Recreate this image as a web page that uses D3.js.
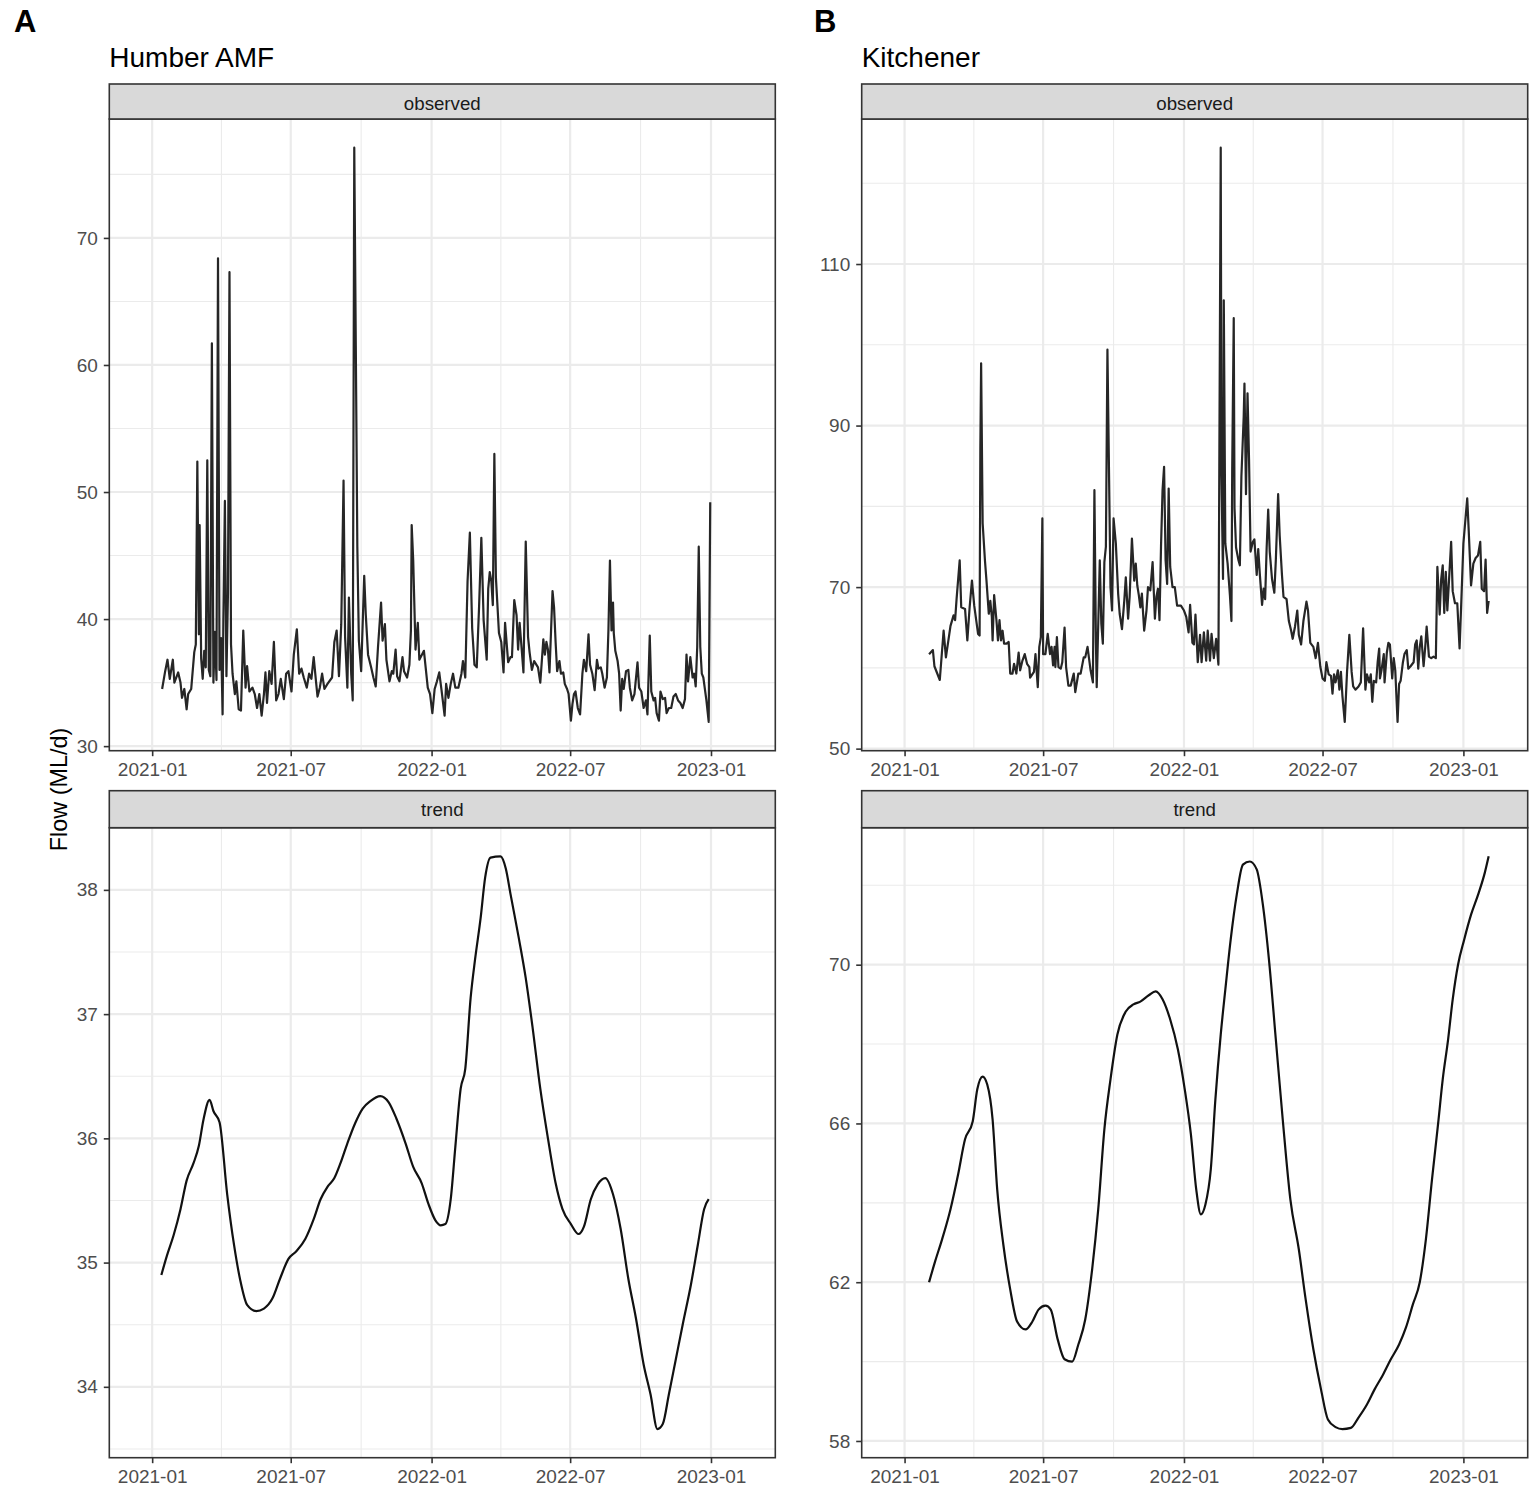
<!DOCTYPE html>
<html>
<head>
<meta charset="utf-8">
<script src="https://cdn.jsdelivr.net/npm/d3@7"></script>
<style>
    body { margin: 0; background: #ffffff; }
    svg { display: block; }
    text { font-family: "Liberation Sans", Arial, sans-serif; }
</style>
</head>
<body>
<div id="chart"></div>
<script>
// values
var humberObserved = [
    ["2021-01-14",34.5],["2021-01-18",35.9],["2021-01-21",36.8],["2021-01-24",35.3],["2021-01-28",36.8],["2021-01-30",35.0],
    ["2021-02-04",35.8],["2021-02-07",35.0],["2021-02-09",33.8],["2021-02-12",34.5],["2021-02-15",32.9],["2021-02-17",34.1],
    ["2021-02-21",34.5],["2021-02-25",37.4],["2021-02-27",38.0],["2021-03-01",52.4],["2021-03-03",38.8],["2021-03-04",47.4],
    ["2021-03-06",36.9],["2021-03-08",35.3],["2021-03-10",37.5],["2021-03-12",36.2],["2021-03-14",52.5],["2021-03-16",36.0],
    ["2021-03-18",35.5],["2021-03-20",61.7],["2021-03-22",35.0],["2021-03-24",39.0],["2021-03-26",35.2],["2021-03-28",68.4],
    ["2021-03-30",36.0],["2021-04-01",38.5],["2021-04-03",32.5],["2021-04-04",40.0],["2021-04-06",49.3],["2021-04-08",35.5],
    ["2021-04-10",42.0],["2021-04-12",67.3],["2021-04-14",38.0],["2021-04-16",35.7],["2021-04-19",34.1],["2021-04-21",35.1],
    ["2021-04-24",32.9],["2021-04-27",32.8],["2021-04-30",39.1],["2021-05-03",34.6],["2021-05-05",36.3],["2021-05-08",34.3],
    ["2021-05-12",34.6],["2021-05-15",34.1],["2021-05-18",33.0],["2021-05-21",34.1],["2021-05-24",32.4],["2021-05-27",34.1],
    ["2021-05-29",35.8],["2021-05-31",33.4],["2021-06-03",35.9],["2021-06-06",34.9],["2021-06-09",38.2],["2021-06-12",33.6],
    ["2021-06-15",34.1],["2021-06-18",35.3],["2021-06-22",33.7],["2021-06-25",35.7],["2021-06-28",35.9],["2021-07-02",34.3],
    ["2021-07-05",37.2],["2021-07-09",39.2],["2021-07-12",35.7],["2021-07-15",36.1],["2021-07-18",35.4],["2021-07-22",34.6],
    ["2021-07-25",35.7],["2021-07-28",35.3],["2021-07-31",37.0],["2021-08-03",35.1],["2021-08-05",33.9],["2021-08-08",34.6],
    ["2021-08-11",35.7],["2021-08-14",34.5],["2021-08-18",34.9],["2021-08-24",35.4],["2021-08-27",38.2],["2021-08-30",39.1],
    ["2021-09-02",35.5],["2021-09-05",39.6],["2021-09-08",50.9],["2021-09-10",38.6],["2021-09-13",34.6],["2021-09-15",41.7],
    ["2021-09-18",35.7],["2021-09-20",33.6],["2021-09-22",77.1],["2021-09-24",61.5],["2021-09-26",45.7],["2021-09-28",38.3],
    ["2021-10-01",35.9],["2021-10-05",43.4],["2021-10-07",40.4],["2021-10-10",37.2],["2021-10-14",36.2],["2021-10-17",35.4],
    ["2021-10-20",34.7],["2021-10-23",37.8],["2021-10-27",41.3],["2021-10-29",38.3],["2021-11-01",39.6],["2021-11-03",36.8],
    ["2021-11-07",35.1],["2021-11-10",35.9],["2021-11-12",35.7],["2021-11-15",37.6],["2021-11-17",35.5],["2021-11-20",35.1],
    ["2021-11-24",37.0],["2021-11-26",35.9],["2021-11-30",35.4],["2021-12-03",36.4],["2021-12-05",39.1],["2021-12-06",47.4],
    ["2021-12-08",44.6],["2021-12-11",37.6],["2021-12-14",39.7],["2021-12-16",36.8],["2021-12-22",37.5],["2021-12-27",34.6],
    ["2021-12-30",34.1],["2022-01-02",32.6],["2022-01-05",34.5],["2022-01-08",35.1],["2022-01-11",35.8],["2022-01-14",34.4],
    ["2022-01-18",32.4],["2022-01-20",34.9],["2022-01-23",33.8],["2022-01-26",34.9],["2022-01-29",35.7],["2022-02-01",34.6],
    ["2022-02-05",34.6],["2022-02-09",35.7],["2022-02-11",36.7],["2022-02-14",35.4],["2022-02-17",43.0],["2022-02-20",46.8],
    ["2022-02-23",39.3],["2022-02-26",36.4],["2022-03-01",36.2],["2022-03-04",40.9],["2022-03-07",46.4],["2022-03-10",39.9],
    ["2022-03-14",36.8],["2022-03-16",42.4],["2022-03-18",43.7],["2022-03-20",43.0],["2022-03-22",41.1],["2022-03-24",53.0],
    ["2022-03-26",43.3],["2022-03-30",38.9],["2022-04-02",38.2],["2022-04-05",35.8],["2022-04-07",39.7],["2022-04-11",36.6],
    ["2022-04-14",37.0],["2022-04-16",37.0],["2022-04-19",41.5],["2022-04-22",40.3],["2022-04-24",37.6],["2022-04-26",39.7],
    ["2022-04-29",37.4],["2022-05-01",35.8],["2022-05-04",46.1],["2022-05-07",38.6],["2022-05-09",37.4],["2022-05-12",36.0],
    ["2022-05-15",36.7],["2022-05-18",36.4],["2022-05-20",36.2],["2022-05-23",35.0],["2022-05-27",38.4],["2022-05-29",37.2],
    ["2022-05-31",38.2],["2022-06-02",37.6],["2022-06-04",35.8],["2022-06-08",42.2],["2022-06-10",40.9],["2022-06-12",38.2],
    ["2022-06-14",35.9],["2022-06-17",36.7],["2022-06-19",35.7],["2022-06-22",35.8],["2022-06-24",34.9],["2022-06-27",34.5],
    ["2022-06-29",34.1],["2022-07-02",32.0],["2022-07-04",33.3],["2022-07-06",34.1],["2022-07-08",34.3],["2022-07-11",33.0],
    ["2022-07-14",32.5],["2022-07-17",35.7],["2022-07-19",36.8],["2022-07-22",35.9],["2022-07-25",38.8],["2022-07-27",36.4],
    ["2022-07-30",35.7],["2022-08-02",34.4],["2022-08-05",36.8],["2022-08-07",36.1],["2022-08-10",36.2],["2022-08-12",35.7],
    ["2022-08-15",34.6],["2022-08-18",35.4],["2022-08-20",39.1],["2022-08-22",44.6],["2022-08-24",39.1],["2022-08-26",41.3],
    ["2022-08-27",38.9],["2022-08-29",37.5],["2022-09-01",36.7],["2022-09-03",35.7],["2022-09-05",32.8],["2022-09-07",35.3],
    ["2022-09-09",34.5],["2022-09-12",35.9],["2022-09-15",36.0],["2022-09-17",34.6],["2022-09-20",33.6],["2022-09-23",34.1],
    ["2022-09-27",36.6],["2022-09-29",34.6],["2022-10-02",34.3],["2022-10-05",33.0],["2022-10-08",33.6],["2022-10-10",32.5],
    ["2022-10-13",38.7],["2022-10-15",34.3],["2022-10-18",33.6],["2022-10-20",33.8],["2022-10-22",32.6],["2022-10-25",32.0],
    ["2022-10-27",34.3],["2022-10-30",33.7],["2022-11-02",33.8],["2022-11-04",32.6],["2022-11-07",33.0],["2022-11-10",33.0],
    ["2022-11-13",33.9],["2022-11-16",34.1],["2022-11-19",33.6],["2022-11-22",33.4],["2022-11-25",33.0],["2022-11-28",33.7],
    ["2022-11-30",37.2],["2022-12-02",35.1],["2022-12-05",37.0],["2022-12-08",35.4],["2022-12-10",35.7],["2022-12-12",34.7],
    ["2022-12-14",37.8],["2022-12-16",45.7],["2022-12-18",37.8],["2022-12-20",35.7],["2022-12-22",35.4],["2022-12-26",33.6],
    ["2022-12-29",31.9],["2022-12-31",49.2]
];

var humberTrend = [
    ["2021-01-13",34.90],["2021-01-20",35.05],["2021-01-29",35.22],["2021-02-07",35.43],["2021-02-15",35.66],["2021-02-24",35.80],
    ["2021-03-03",35.94],["2021-03-09",36.15],["2021-03-17",36.31],["2021-03-22",36.22],["2021-03-30",36.13],["2021-04-09",35.55],
    ["2021-04-18",35.14],["2021-04-26",34.86],["2021-05-05",34.66],["2021-05-17",34.61],["2021-05-27",34.63],["2021-06-07",34.71],
    ["2021-06-17",34.87],["2021-06-28",35.03],["2021-07-08",35.09],["2021-07-20",35.19],["2021-07-31",35.35],["2021-08-09",35.51],
    ["2021-08-18",35.61],["2021-08-27",35.68],["2021-09-04",35.80],["2021-09-13",35.96],["2021-09-23",36.12],["2021-10-03",36.24],
    ["2021-10-13",36.30],["2021-10-26",36.34],["2021-11-06",36.29],["2021-11-16",36.16],["2021-11-28",35.96],["2021-12-08",35.77],
    ["2021-12-19",35.64],["2021-12-28",35.47],["2022-01-06",35.34],["2022-01-13",35.30],["2022-01-19",35.31],["2022-01-26",35.51],
    ["2022-02-01",35.93],["2022-02-08",36.40],["2022-02-14",36.56],["2022-02-21",37.13],["2022-02-27",37.45],["2022-03-06",37.77],
    ["2022-03-12",38.10],["2022-03-19",38.26],["2022-04-01",38.27],["2022-04-08",38.17],["2022-04-14",37.97],["2022-04-25",37.61],
    ["2022-05-04",37.29],["2022-05-13",36.89],["2022-05-23",36.40],["2022-06-02",36.00],["2022-06-12",35.64],["2022-06-21",35.43],
    ["2022-07-02",35.31],["2022-07-12",35.23],["2022-07-19",35.29],["2022-07-28",35.51],["2022-08-06",35.63],["2022-08-16",35.68],
    ["2022-08-26",35.55],["2022-09-05",35.27],["2022-09-15",34.87],["2022-09-25",34.55],["2022-10-05",34.18],["2022-10-14",33.94],
    ["2022-10-23",33.66],["2022-10-30",33.70],["2022-11-07",33.94],["2022-11-16",34.22],["2022-11-25",34.50],["2022-12-06",34.83],
    ["2022-12-15",35.15],["2022-12-23",35.43],["2022-12-29",35.51]
];

var kitchenerObserved = [
    ["2021-02-02",61.7],["2021-02-07",62.2],["2021-02-09",60.2],["2021-02-16",58.5],["2021-02-21",64.6],["2021-02-24",61.3],
    ["2021-03-02",65.2],["2021-03-06",66.5],["2021-03-08",65.9],["2021-03-10",68.6],["2021-03-14",73.3],["2021-03-16",67.5],
    ["2021-03-21",67.3],["2021-03-24",63.4],["2021-03-27",67.5],["2021-03-30",70.8],["2021-04-02",67.7],["2021-04-07",64.2],
    ["2021-04-09",64.0],["2021-04-10",87.4],["2021-04-11",97.7],["2021-04-13",77.9],["2021-04-16",73.3],["2021-04-18",70.8],
    ["2021-04-21",66.7],["2021-04-23",68.3],["2021-04-25",66.3],["2021-04-26",63.4],["2021-04-28",69.0],["2021-05-01",65.9],
    ["2021-05-03",63.4],["2021-05-05",65.9],["2021-05-07",63.4],["2021-05-09",64.6],["2021-05-11",63.0],["2021-05-14",63.0],
    ["2021-05-17",63.2],["2021-05-19",59.3],["2021-05-22",59.3],["2021-05-24",60.5],["2021-05-27",59.3],["2021-05-30",61.9],
    ["2021-06-01",59.7],["2021-06-04",60.9],["2021-06-07",61.7],["2021-06-10",60.5],["2021-06-13",60.1],["2021-06-14",58.8],
    ["2021-06-19",59.5],["2021-06-21",61.7],["2021-06-24",57.6],["2021-06-26",62.6],["2021-06-28",63.8],["2021-06-30",78.5],
    ["2021-07-01",61.7],["2021-07-04",61.7],["2021-07-07",64.2],["2021-07-10",61.7],["2021-07-12",62.6],["2021-07-14",60.3],
    ["2021-07-16",62.6],["2021-07-17",60.1],["2021-07-19",63.8],["2021-07-21",60.1],["2021-07-24",59.9],["2021-07-26",60.7],
    ["2021-07-29",65.0],["2021-07-31",60.1],["2021-08-03",57.8],["2021-08-06",57.8],["2021-08-10",59.3],["2021-08-12",57.0],
    ["2021-08-16",59.3],["2021-08-19",59.3],["2021-08-23",61.3],["2021-08-25",61.3],["2021-08-28",62.6],["2021-09-01",59.7],
    ["2021-09-04",58.2],["2021-09-06",82.0],["2021-09-08",63.0],["2021-09-09",57.6],["2021-09-13",73.3],["2021-09-15",65.5],
    ["2021-09-17",63.0],["2021-09-19",73.1],["2021-09-21",75.0],["2021-09-23",99.4],["2021-09-25",84.7],["2021-09-27",70.0],
    ["2021-09-29",67.1],["2021-10-01",78.5],["2021-10-04",75.4],["2021-10-07",69.2],["2021-10-09",66.7],["2021-10-12",64.8],
    ["2021-10-15",68.3],["2021-10-17",71.2],["2021-10-20",66.1],["2021-10-22",68.8],["2021-10-25",76.0],["2021-10-28",70.8],
    ["2021-10-30",72.9],["2021-11-01",70.2],["2021-11-03",69.0],["2021-11-05",67.5],["2021-11-07",69.2],["2021-11-10",64.6],
    ["2021-11-13",67.1],["2021-11-15",70.0],["2021-11-18",69.6],["2021-11-21",73.1],["2021-11-24",66.1],["2021-11-26",68.8],
    ["2021-11-28",69.8],["2021-11-30",65.9],["2021-12-02",75.0],["2021-12-04",82.0],["2021-12-06",84.9],["2021-12-08",73.3],
    ["2021-12-10",70.4],["2021-12-12",82.2],["2021-12-14",72.5],["2021-12-17",70.0],["2021-12-20",70.0],["2021-12-23",67.7],
    ["2021-12-28",67.7],["2022-01-01",67.1],["2022-01-04",66.3],["2022-01-07",64.4],["2022-01-09",67.8],["2022-01-12",63.1],
    ["2022-01-14",62.9],["2022-01-16",66.6],["2022-01-19",60.7],["2022-01-22",64.1],["2022-01-24",60.7],["2022-01-27",64.4],
    ["2022-01-30",60.9],["2022-02-01",64.6],["2022-02-04",60.9],["2022-02-06",64.2],["2022-02-09",61.2],["2022-02-12",63.6],
    ["2022-02-15",60.4],["2022-02-16",81.8],["2022-02-18",124.4],["2022-02-19",83.7],["2022-02-21",71.0],["2022-02-22",105.5],
    ["2022-02-24",75.4],["2022-02-27",72.9],["2022-03-02",69.0],["2022-03-04",65.8],["2022-03-05",84.7],["2022-03-07",103.3],
    ["2022-03-08",79.8],["2022-03-10",74.9],["2022-03-13",73.4],["2022-03-15",72.7],["2022-03-17",83.7],["2022-03-20",91.1],
    ["2022-03-21",95.2],["2022-03-23",81.5],["2022-03-25",94.0],["2022-03-27",85.7],["2022-03-29",74.4],["2022-04-01",75.6],
    ["2022-04-03",75.9],["2022-04-06",71.5],["2022-04-08",74.7],["2022-04-10",71.7],["2022-04-13",67.8],["2022-04-15",69.8],
    ["2022-04-17",68.5],["2022-04-19",74.9],["2022-04-21",79.6],["2022-04-23",74.4],["2022-04-26",71.0],["2022-04-29",69.3],
    ["2022-05-01",73.4],["2022-05-04",81.5],["2022-05-06",76.4],["2022-05-09",71.5],["2022-05-11",68.8],["2022-05-15",68.5],
    ["2022-05-18",65.8],["2022-05-21",64.6],["2022-05-23",63.6],["2022-05-26",65.1],["2022-05-29",67.1],["2022-05-31",64.1],
    ["2022-06-03",62.9],["2022-06-06",65.8],["2022-06-10",68.2],["2022-06-12",67.1],["2022-06-15",63.1],["2022-06-19",62.6],
    ["2022-06-22",61.2],["2022-06-25",63.1],["2022-06-28",60.2],["2022-07-01",58.7],["2022-07-04",58.4],["2022-07-06",60.7],
    ["2022-07-09",59.2],["2022-07-12",59.0],["2022-07-14",56.8],["2022-07-16",59.2],["2022-07-18",58.2],["2022-07-21",59.7],
    ["2022-07-23",57.3],["2022-07-25",59.5],["2022-07-27",56.5],["2022-07-30",53.3],["2022-08-02",59.5],["2022-08-05",64.1],
    ["2022-08-08",59.5],["2022-08-10",57.7],["2022-08-13",57.3],["2022-08-17",57.7],["2022-08-20",58.2],["2022-08-23",64.9],
    ["2022-08-26",57.3],["2022-08-28",59.2],["2022-08-31",58.2],["2022-09-02",59.2],["2022-09-04",55.8],["2022-09-06",58.4],
    ["2022-09-09",58.2],["2022-09-11",60.7],["2022-09-13",62.4],["2022-09-14",58.7],["2022-09-16",59.7],["2022-09-19",61.7],
    ["2022-09-20",58.2],["2022-09-23",61.9],["2022-09-25",63.1],["2022-09-27",62.9],["2022-09-30",58.7],["2022-10-02",61.2],
    ["2022-10-04",59.7],["2022-10-07",53.3],["2022-10-09",58.0],["2022-10-11",58.4],["2022-10-14",60.7],["2022-10-16",61.7],
    ["2022-10-19",62.2],["2022-10-21",59.9],["2022-10-24",60.2],["2022-10-28",60.7],["2022-10-30",62.9],["2022-11-01",63.4],
    ["2022-11-03",59.9],["2022-11-05",62.6],["2022-11-07",63.9],["2022-11-10",60.2],["2022-11-12",62.4],["2022-11-14",65.1],
    ["2022-11-17",61.4],["2022-11-20",61.2],["2022-11-23",61.4],["2022-11-26",61.2],["2022-11-28",72.5],["2022-12-01",66.6],
    ["2022-12-03",71.0],["2022-12-05",72.7],["2022-12-07",66.8],["2022-12-09",71.9],["2022-12-11",67.1],["2022-12-14",72.2],
    ["2022-12-16",75.6],["2022-12-18",69.5],["2022-12-21",68.0],["2022-12-24",68.0],["2022-12-27",62.4],["2022-12-29",67.5],
    ["2023-01-01",75.4],["2023-01-06",81.0],["2023-01-08",76.9],["2023-01-11",70.2],["2023-01-14",72.9],["2023-01-17",73.6],
    ["2023-01-20",73.9],["2023-01-23",75.6],["2023-01-25",69.8],["2023-01-28",69.5],["2023-01-30",73.4],["2023-02-01",66.8],
    ["2023-02-03",68.3]
];

var kitchenerTrend = [
    ["2021-02-02",62.00],["2021-02-10",62.53],["2021-02-19",63.08],["2021-03-02",63.84],["2021-03-12",64.72],["2021-03-21",65.60],
    ["2021-03-31",66.05],["2021-04-06",66.86],["2021-04-13",67.18],["2021-04-19",66.98],["2021-04-26",66.10],["2021-05-02",64.34],
    ["2021-05-10",62.95],["2021-05-19",61.82],["2021-05-28",61.01],["2021-06-08",60.81],["2021-06-17",61.01],["2021-06-25",61.31],
    ["2021-07-04",61.41],["2021-07-11",61.31],["2021-07-20",60.56],["2021-07-29",60.06],["2021-08-08",60.00],["2021-08-16",60.43],
    ["2021-08-25",61.06],["2021-09-03",62.32],["2021-09-11",63.84],["2021-09-19",65.85],["2021-09-27",67.11],["2021-10-06",68.24],
    ["2021-10-17",68.82],["2021-10-27",69.00],["2021-11-05",69.07],["2021-11-16",69.23],["2021-11-25",69.33],["2021-12-04",69.13],
    ["2021-12-14",68.62],["2021-12-24",67.87],["2022-01-02",66.86],["2022-01-10",65.73],["2022-01-17",64.34],["2022-01-23",63.71],
    ["2022-01-29",63.96],["2022-02-05",64.84],["2022-02-11",66.60],["2022-02-18",68.24],["2022-02-24",69.37],["2022-03-03",70.63],
    ["2022-03-11",71.77],["2022-03-19",72.52],["2022-03-28",72.60],["2022-04-06",72.40],["2022-04-14",71.52],["2022-04-22",70.13],
    ["2022-05-01",68.11],["2022-05-10",66.10],["2022-05-20",64.08],["2022-05-31",62.83],["2022-06-09",61.56],["2022-06-19",60.31],
    ["2022-06-29",59.30],["2022-07-08",58.54],["2022-07-18",58.35],["2022-07-27",58.30],["2022-08-07",58.33],["2022-08-17",58.59],
    ["2022-08-28",58.92],["2022-09-07",59.30],["2022-09-18",59.67],["2022-09-28",60.05],["2022-10-09",60.43],["2022-10-18",60.86],
    ["2022-10-27",61.44],["2022-11-05",62.00],["2022-11-13",63.08],["2022-11-21",64.59],["2022-11-29",66.00],["2022-12-05",67.11],
    ["2022-12-12",68.11],["2022-12-18",69.12],["2022-12-25",70.00],["2023-01-02",70.63],["2023-01-11",71.26],["2023-01-21",71.81],
    ["2023-01-29",72.32],["2023-02-03",72.73]
];

var sites = ["Humber AMF", "Kitchener"];
var tags = ["A", "B"];
var facets = ["observed", "trend"];
var xLimits = ["2020-11-06", "2023-03-26"];
var xTicks = ["2021-01-01", "2021-07-01", "2022-01-01", "2022-07-01", "2023-01-01"];
var humberObsTicks = [30, 40, 50, 60, 70];
var humberTrendTicks = [34, 35, 36, 37, 38];
var kitchenerObsTicks = [50, 70, 90, 110];
var kitchenerTrendTicks = [58, 62, 66, 70];
var yTitle = "Flow (ML/d)";

var W = 1536, H = 1493;
var colLeft = [109.3, 861.7];
var panelW = 666;
var rowsPos = [
    {stripTop: 84, top: 119, bottom: 750.7},
    {stripTop: 790.7, top: 827.7, bottom: 1457.7}
];
var parseDate = d3.utcParse("%Y-%m-%d");
var fmtDate = d3.utcFormat("%Y-%m");

var svg = d3.select("#chart").append("svg")
    .attr("width", W)
    .attr("height", H)
    .attr("viewBox", "0 0 " + W + " " + H);

svg.append("rect").attr("width", W).attr("height", H).attr("fill", "#ffffff");

function minorValues(major, domain) {
    var step = major[1] - major[0];
    var out = [];
    for (var i = -1; i < major.length; ++i) {
        var v = major[0] + step * (i + 0.5);
        if (v >= domain[0] && v <= domain[1]) out.push(v);
    }
    return out;
}

function drawPanel(col, row, data, yTicks) {
    var pos = rowsPos[row];
    var left = colLeft[col], right = left + panelW;

    var x = d3.scaleUtc()
        .domain(xLimits.map(parseDate))
        .range([left, right]);

    var ext = d3.extent(data, function (d) { return d[1]; });
    var pad = (ext[1] - ext[0]) * 0.05;
    var y = d3.scaleLinear()
        .domain([ext[0] - pad, ext[1] + pad])
        .range([pos.bottom, pos.top]);

    var g = svg.append("g").attr("class", "panel");

    // grid
    var xMajor = xTicks.map(parseDate);
    var xMinor = [];
    for (var i = 0; i < xMajor.length - 1; ++i) {
        xMinor.push(new Date((xMajor[i].getTime() + xMajor[i + 1].getTime()) / 2));
    }
    var yMinor = minorValues(yTicks, y.domain());

    g.selectAll("line.ymin").data(yMinor).enter().append("line")
        .attr("x1", left).attr("x2", right)
        .attr("y1", function (d) { return y(d); }).attr("y2", function (d) { return y(d); })
        .attr("stroke", "#ebebeb").attr("stroke-width", 1.1);
    g.selectAll("line.xmin").data(xMinor).enter().append("line")
        .attr("y1", pos.top).attr("y2", pos.bottom)
        .attr("x1", function (d) { return x(d); }).attr("x2", function (d) { return x(d); })
        .attr("stroke", "#ebebeb").attr("stroke-width", 1.1);
    g.selectAll("line.ymaj").data(yTicks).enter().append("line")
        .attr("x1", left).attr("x2", right)
        .attr("y1", function (d) { return y(d); }).attr("y2", function (d) { return y(d); })
        .attr("stroke", "#ebebeb").attr("stroke-width", 2.2);
    g.selectAll("line.xmaj").data(xMajor).enter().append("line")
        .attr("y1", pos.top).attr("y2", pos.bottom)
        .attr("x1", function (d) { return x(d); }).attr("x2", function (d) { return x(d); })
        .attr("stroke", "#ebebeb").attr("stroke-width", 2.2);

    // series: observed is joined point to point, trend follows a smooth path
    var line = d3.line()
        .x(function (d) { return x(parseDate(d[0])); })
        .y(function (d) { return y(d[1]); })
        .curve(row === 1 ? d3.curveMonotoneX : d3.curveLinear);
    g.append("path")
        .datum(data)
        .attr("d", line)
        .attr("fill", "none")
        .attr("stroke", row === 1 ? "#111111" : "#262626")
        .attr("stroke-width", 2.2)
        .attr("stroke-linejoin", "round");

    // border
    g.append("rect")
        .attr("x", left).attr("y", pos.top)
        .attr("width", panelW).attr("height", pos.bottom - pos.top)
        .attr("fill", "none").attr("stroke", "#333333").attr("stroke-width", 1.6);

    // strip
    g.append("rect")
        .attr("x", left).attr("y", pos.stripTop)
        .attr("width", panelW).attr("height", pos.top - pos.stripTop)
        .attr("fill", "#d9d9d9").attr("stroke", "#333333").attr("stroke-width", 1.6);
    g.append("text")
        .attr("x", (left + right) / 2)
        .attr("y", pos.stripTop + 25.5)
        .attr("text-anchor", "middle")
        .attr("font-size", "18.7px")
        .attr("fill", "#1a1a1a")
        .text(facets[row]);

    // axes
    var yAxis = d3.axisLeft(y).tickValues(yTicks).tickSize(5.5).tickPadding(6).tickFormat(d3.format("d"));
    var ya = svg.append("g").attr("transform", "translate(" + left + ",0)").call(yAxis);
    var xAxis = d3.axisBottom(x).tickValues(xMajor).tickSize(5.5).tickPadding(6).tickFormat(fmtDate);
    var xa = svg.append("g").attr("transform", "translate(0," + pos.bottom + ")").call(xAxis);
    [ya, xa].forEach(function (a) {
        a.select(".domain").remove();
        a.selectAll(".tick line").attr("stroke", "#333333").attr("stroke-width", 1.6);
        a.selectAll(".tick text")
            .attr("fill", "#4d4d4d")
            .attr("font-size", "19px")
            .attr("font-family", "'Liberation Sans', Arial, sans-serif");
    });
}

drawPanel(0, 0, humberObserved, humberObsTicks);
drawPanel(0, 1, humberTrend, humberTrendTicks);
drawPanel(1, 0, kitchenerObserved, kitchenerObsTicks);
drawPanel(1, 1, kitchenerTrend, kitchenerTrendTicks);

// titles and tags
var tagX = [14, 814];
sites.forEach(function (s, i) {
    svg.append("text")
        .attr("x", tagX[i]).attr("y", 32)
        .attr("font-size", "31px").attr("font-weight", "bold")
        .attr("fill", "#000")
        .text(tags[i]);
    svg.append("text")
        .attr("x", colLeft[i]).attr("y", 66.5)
        .attr("font-size", "28px")
        .attr("fill", "#000")
        .text(s);
});

svg.append("text")
    .attr("transform", "translate(67,789.5) rotate(-90)")
    .attr("text-anchor", "middle")
    .attr("font-size", "23.4px")
    .attr("fill", "#000")
    .text(yTitle);
</script>
</body>
</html>
